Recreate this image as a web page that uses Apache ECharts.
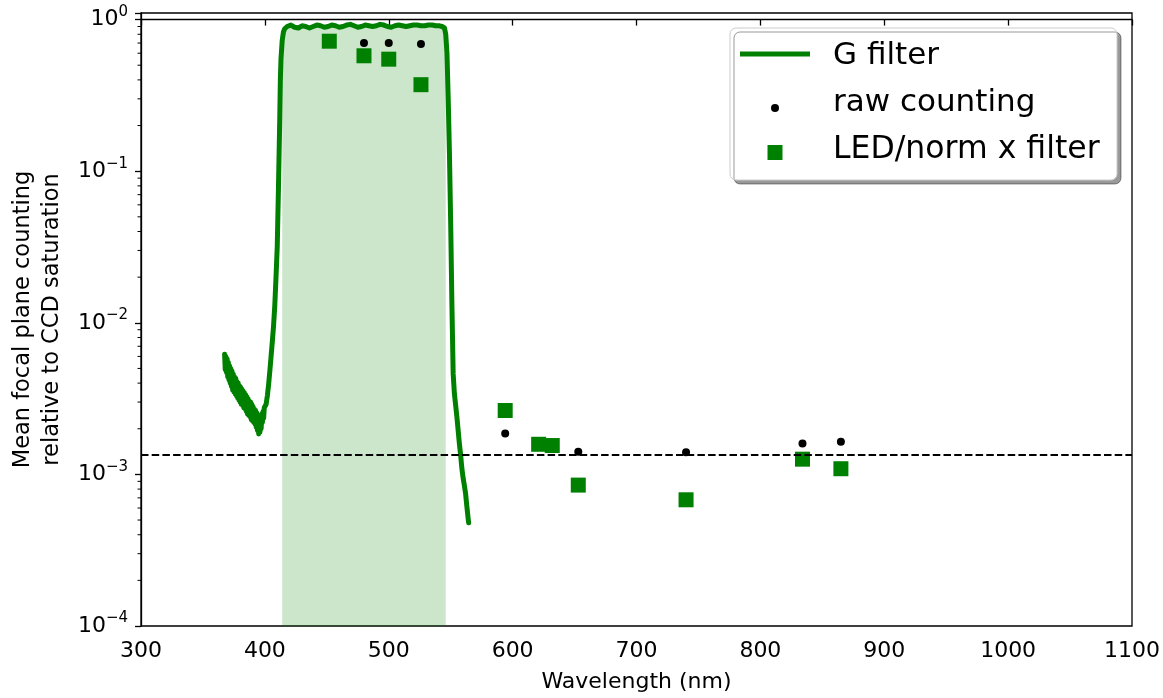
<!DOCTYPE html>
<html>
<head>
<meta charset="utf-8">
<script src="https://cdn.jsdelivr.net/npm/echarts@6/dist/echarts.min.js"></script>
<style>
html, body { margin: 0; padding: 0; background: #fff; }
#main { width: 1163px; height: 698px; }
</style>
</head>
<body>
<div id="main"></div>
<script>
// G filter transmission (nm, fraction of CCD saturation)
var filterNm = [
    367.5, 368, 368.5, 369, 369.5, 370, 370.5, 371, 371.5, 372, 372.5, 373, 373.5, 374, 374.5,
    375, 375.5, 376, 376.5, 377, 377.5, 378, 378.5, 379, 379.5, 380, 380.5, 381, 381.5, 382,
    382.5, 383, 383.5, 384, 384.5, 385, 385.5, 386, 386.5, 387, 387.5, 388, 388.5, 389, 389.5,
    390, 390.5, 391, 391.5, 392, 392.5, 393, 393.5, 394, 394.5, 395, 395.5, 396, 396.5, 397,
    397.5, 398, 398.5, 399, 399.5, 400, 401, 402,
    403, 404, 405, 406, 407, 408, 409, 410, 411, 412, 412.5, 413, 414, 415, 416, 418, 421, 424,
    427, 430, 433, 436, 439, 442, 445, 448, 451, 454, 457, 460, 463, 466, 469, 472, 475, 478,
    481, 484, 487, 490, 493, 496, 499, 502, 505, 508, 511, 514, 517, 520, 523, 526, 529, 532,
    535, 538, 541, 543, 545, 546, 547, 548, 549, 550, 551, 552, 553, 555, 557, 558, 559, 560,
    561, 562, 563, 564, 564.5
];
var filterVal = [
    6.2e-3, 4.9e-3, 6.0e-3, 4.7e-3, 5.8e-3, 4.4e-3, 5.5e-3, 4.2e-3, 5.2e-3, 4.0e-3, 5.0e-3, 3.8e-3, 4.8e-3, 3.6e-3, 4.6e-3,
    3.5e-3, 4.4e-3, 3.4e-3, 4.3e-3, 3.3e-3, 4.1e-3, 3.2e-3, 4.0e-3, 3.1e-3, 3.85e-3, 3.0e-3, 3.75e-3, 2.9e-3, 3.65e-3, 2.85e-3,
    3.55e-3, 2.75e-3, 3.45e-3, 2.7e-3, 3.35e-3, 2.6e-3, 3.25e-3, 2.5e-3, 3.15e-3, 2.45e-3, 3.05e-3, 2.4e-3, 3.0e-3, 2.3e-3, 2.9e-3,
    2.25e-3, 2.8e-3, 2.2e-3, 2.7e-3, 2.15e-3, 2.65e-3, 2.05e-3, 2.55e-3, 1.95e-3, 2.45e-3, 1.85e-3, 2.4e-3, 1.9e-3, 2.4e-3, 2.0e-3,
    2.5e-3, 2.2e-3, 2.6e-3, 2.35e-3, 2.75e-3, 2.7e-3, 2.9e-3, 3.3e-3,
    3.9e-3, 4.8e-3, 6.0e-3, 7.5e-3, 9.5e-3, 1.3e-2, 2.0e-2, 3.2e-2, 8.0e-2, 0.22, 0.40, 0.55, 0.73, 0.83, 0.87, 0.90, 0.92, 0.89,
    0.88, 0.91, 0.90, 0.88, 0.90, 0.92, 0.91, 0.89, 0.90, 0.92, 0.91, 0.89, 0.90, 0.92, 0.93, 0.91, 0.89, 0.90,
    0.92, 0.91, 0.90, 0.91, 0.93, 0.92, 0.90, 0.89, 0.91, 0.92, 0.91, 0.90, 0.91, 0.92, 0.92, 0.91, 0.91, 0.92,
    0.92, 0.91, 0.91, 0.90, 0.88, 0.80, 0.60, 0.30, 0.13, 0.045, 0.013, 4.6e-3, 3.4e-3, 2.4e-3, 1.6e-3, 1.35e-3, 1.1e-3, 9.5e-4,
    8.5e-4, 7.5e-4, 6.2e-4, 5.2e-4, 4.8e-4
];
var fillRange = [414, 546.4];

// raw counting points
var rawNm = [480, 500, 526, 594, 653, 740, 834, 865];
var rawVal = [0.70, 0.70, 0.69, 1.86e-3, 1.41e-3, 1.40e-3, 1.60e-3, 1.64e-3];

// LED/norm x filter points
var ledNm = [452, 480, 500, 526, 594, 621, 632, 653, 740, 834, 865];
var ledVal = [0.72, 0.577, 0.548, 0.372, 2.64e-3, 1.58e-3, 1.55e-3, 8.5e-4, 6.8e-4, 1.26e-3, 1.09e-3];

// CCD saturation reference level
var saturationLevel = 1.36e-3;

// axis ticks
var xTicks = [300, 1100, 100];
var yDecades = [-4, -3, -2, -1, 0];
var yTop = 1.105;

var FONT = 'DejaVu Sans';

function lg(v) { return Math.log10(v); }

var filterData = filterNm.map(function (x, i) { return [x, lg(filterVal[i])]; });
var fillData = filterData.filter(function (p) { return p[0] >= fillRange[0] && p[0] <= fillRange[1]; });
var rawData = rawNm.map(function (x, i) { return [x, lg(rawVal[i])]; });
var ledData = ledNm.map(function (x, i) { return [x, lg(ledVal[i])]; });

// log minor ticks 2..9 x 10^n
var minorTicks = [];
yDecades.slice(0, -1).forEach(function (e) {
    for (var k = 2; k <= 9; k++) minorTicks.push([xTicks[0], lg(k * Math.pow(10, e))]);
});

var chart = echarts.init(document.getElementById('main'));
chart.setOption({
    animation: false,
    backgroundColor: '#fff',
    grid: {
        left: 141, right: 31, top: 13, bottom: 70,
        show: true, borderColor: '#000', borderWidth: 1.3
    },
    xAxis: {
        type: 'value',
        min: xTicks[0], max: xTicks[1], interval: xTicks[2],
        name: 'Wavelength (nm)',
        nameLocation: 'middle',
        nameGap: 45,
        nameTextStyle: { fontFamily: FONT, fontSize: 22, color: '#000' },
        axisLine: { lineStyle: { color: '#000', width: 1.3 } },
        axisTick: { length: 6, lineStyle: { color: '#000', width: 1.3 } },
        axisLabel: {
            fontFamily: FONT, fontSize: 22, color: '#000', margin: 14,
            formatter: function (v) { return String(v); }
        },
        splitLine: { show: false }
    },
    yAxis: {
        type: 'value',
        min: yDecades[0], max: lg(yTop), interval: 1,
        name: 'Mean focal plane counting\nrelative to CCD saturation',
        nameLocation: 'middle',
        nameGap: 55,
        nameTextStyle: { fontFamily: FONT, fontSize: 22.5, color: '#000', lineHeight: 29 },
        axisLine: { lineStyle: { color: '#000', width: 1.3 } },
        axisTick: { length: 6, lineStyle: { color: '#000', width: 1.3 } },
        axisLabel: {
            margin: 13,
            formatter: function (v) {
                if (Math.abs(v - Math.round(v)) > 1e-6) return '';
                var e = Math.round(v);
                return '{a|10}{b|' + (e < 0 ? '\u2212' + (-e) : e) + '}';
            },
            rich: {
                a: { fontFamily: FONT, fontSize: 22, color: '#000', lineHeight: 30 },
                b: { fontFamily: FONT, fontSize: 15, color: '#000', lineHeight: 18, verticalAlign: 'top' }
            }
        },
        splitLine: { show: false }
    },
    series: [
        {
            name: 'band',
            type: 'line',
            data: fillData,
            showSymbol: false,
            silent: true,
            lineStyle: { width: 0 },
            areaStyle: { color: 'rgba(0,128,0,0.2)', origin: 'start', opacity: 1 },
            z: 1
        },
        {
            name: 'G filter',
            type: 'line',
            data: filterData,
            showSymbol: false,
            lineStyle: { color: '#008000', width: 5, cap: 'round', join: 'round' },
            z: 2
        },
        {
            name: 'raw counting',
            type: 'scatter',
            data: rawData,
            symbol: 'circle',
            symbolSize: 8,
            itemStyle: { color: '#000', opacity: 1 },
            z: 3
        },
        {
            name: 'LED/norm x filter',
            type: 'scatter',
            data: ledData,
            symbol: 'rect',
            symbolSize: 15,
            itemStyle: { color: '#008000', opacity: 1 },
            z: 4,
            markLine: {
                silent: true,
                symbol: ['none', 'none'],
                label: { show: false },
                lineStyle: { color: '#000', width: 2, type: [7.5, 3.2] },
                data: [{ yAxis: lg(saturationLevel) }]
            }
        },
        {
            name: 'minor ticks',
            type: 'custom',
            data: minorTicks,
            clip: false,
            silent: true,
            renderItem: function (params, api) {
                var p = api.coord([api.value(0), api.value(1)]);
                return {
                    type: 'line',
                    shape: { x1: p[0] - 3.5, y1: p[1], x2: p[0], y2: p[1] },
                    style: { stroke: '#000', lineWidth: 1 }
                };
            },
            z: 5
        }
    ],
    graphic: [
        {
            type: 'rect', z: 100,
            shape: { x: 730, y: 28, width: 387, height: 152, r: 6 },
            style: { fill: '#fff', stroke: '#cccccc', lineWidth: 1, shadowColor: 'rgba(0,0,0,0.4)', shadowOffsetX: 4, shadowOffsetY: 4, shadowBlur: 0 }
        },
        { type: 'line', z: 101, shape: { x1: 740, y1: 54, x2: 810, y2: 54 }, style: { stroke: '#008000', lineWidth: 5 } },
        { type: 'circle', z: 101, shape: { cx: 775, cy: 108, r: 4 }, style: { fill: '#000' } },
        { type: 'rect', z: 101, shape: { x: 767.5, y: 145, width: 15, height: 15 }, style: { fill: '#008000' } },
        { type: 'text', z: 101, style: { x: 833, y: 56, text: 'G filter', font: '31px "DejaVu Sans"', fill: '#000', verticalAlign: 'middle' } },
        { type: 'text', z: 101, style: { x: 833, y: 103, text: 'raw counting', font: '31px "DejaVu Sans"', fill: '#000', verticalAlign: 'middle' } },
        { type: 'text', z: 101, style: { x: 833, y: 150, text: 'LED/norm x filter', font: '31.5px "DejaVu Sans"', fill: '#000', verticalAlign: 'middle' } }
    ]
});
</script>
</body>
</html>
